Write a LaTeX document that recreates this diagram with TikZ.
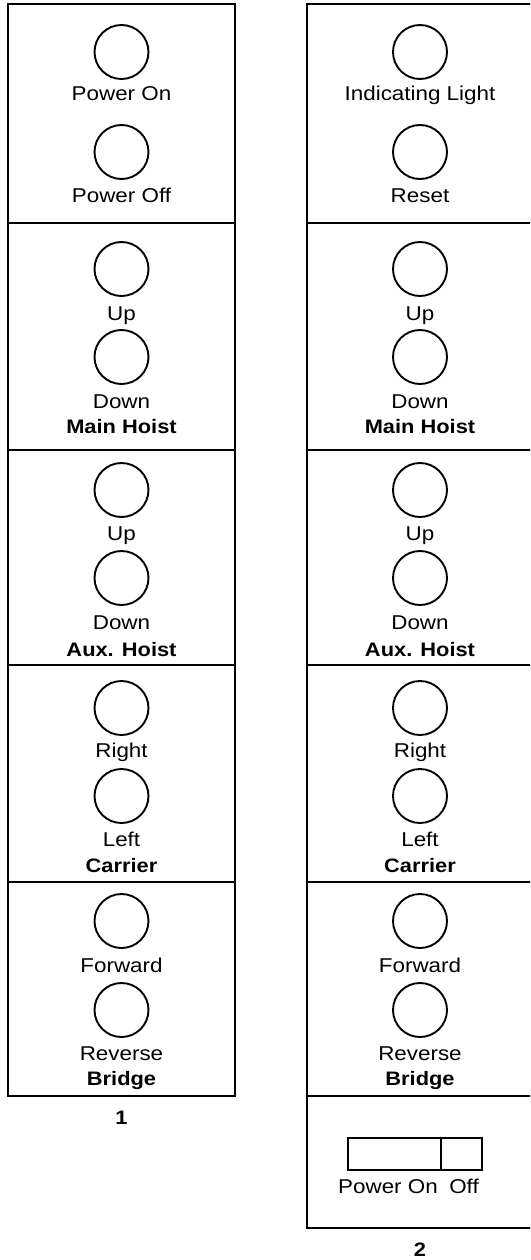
\documentclass[tikz,border=0pt]{standalone}
\usepackage{fontspec}
\setmainfont{Liberation Sans}[FakeStretch=1.12]
\begin{document}
\begin{tikzpicture}[x=1pt,y=-1pt,
  panel/.style={draw, line width=2.2pt},
  btn/.style={draw, circle, minimum size=54pt, inner sep=0pt, line width=1.9pt},
  lbl/.style={anchor=base, inner sep=0pt, font=\fontsize{20}{24}\selectfont},
  ttl/.style={anchor=base, inner sep=0pt, font=\fontsize{19.5}{24}\selectfont\bfseries}]
\clip (0,0) rectangle (530,1260);
% panel 1
\draw[panel] (8,4) rectangle (235,1096);
\foreach \yy in {223,450,665,882} \draw[panel] (8,\yy) -- (235,\yy);
% panel 2
\draw[panel] (307,4) rectangle (534,1228);
\foreach \yy in {223,450,665,882,1096} \draw[panel] (307,\yy) -- (534,\yy);
% section 1
\node[btn] (L1a) at (121.5,52) {};
\node[lbl] (L1al) at (121.5,101) {Power On};
\node[btn] (L1b) at (121.5,152) {};
\node[lbl] (L1bl) at (121.5,203) {Power Off};
\node[btn] (R1a) at (420,52) {};
\node[lbl] (R1al) at (420,101) {Indicating Light};
\node[btn] (R1b) at (420,152) {};
\node[lbl] (R1bl) at (420,203) {Reset};
% sections 2-5
\foreach \cx/\c in {121.5/L,420/R}{
  \foreach \s/\ya/\ba/\la/\yb/\bb/\lb/\bt/\tt in {
    2/269/320/Up/357/408/Down/433/Main Hoist,
    3/490/540/Up/578/629/Down/656/Aux. Hoist,
    4/708/757/Right/796/846/Left/872/Carrier,
    5/921/972/Forward/1010/1060/Reverse/1085/Bridge}{
    \node[btn] (\c\s a) at (\cx,\ya) {};
    \node[lbl] (\c\s al) at (\cx,\ba) {\la};
    \node[btn] (\c\s b) at (\cx,\yb) {};
    \node[lbl] (\c\s bl) at (\cx,\bb) {\lb};
    \node[ttl] (\c\s t) at (\cx,\bt) {\tt};
  }
}
% switch
\draw[panel] (348,1138) rectangle (482,1170);
\draw[panel] (441,1138) -- (441,1170);
\node[lbl] (swon) at (388,1193) {Power On};
\node[lbl] (swoff) at (464,1193) {Off};
% numbers
\node[ttl] (n1) at (121.5,1124) {1};
\node[ttl] (n2) at (420,1256) {2};
\end{tikzpicture}
\end{document}
